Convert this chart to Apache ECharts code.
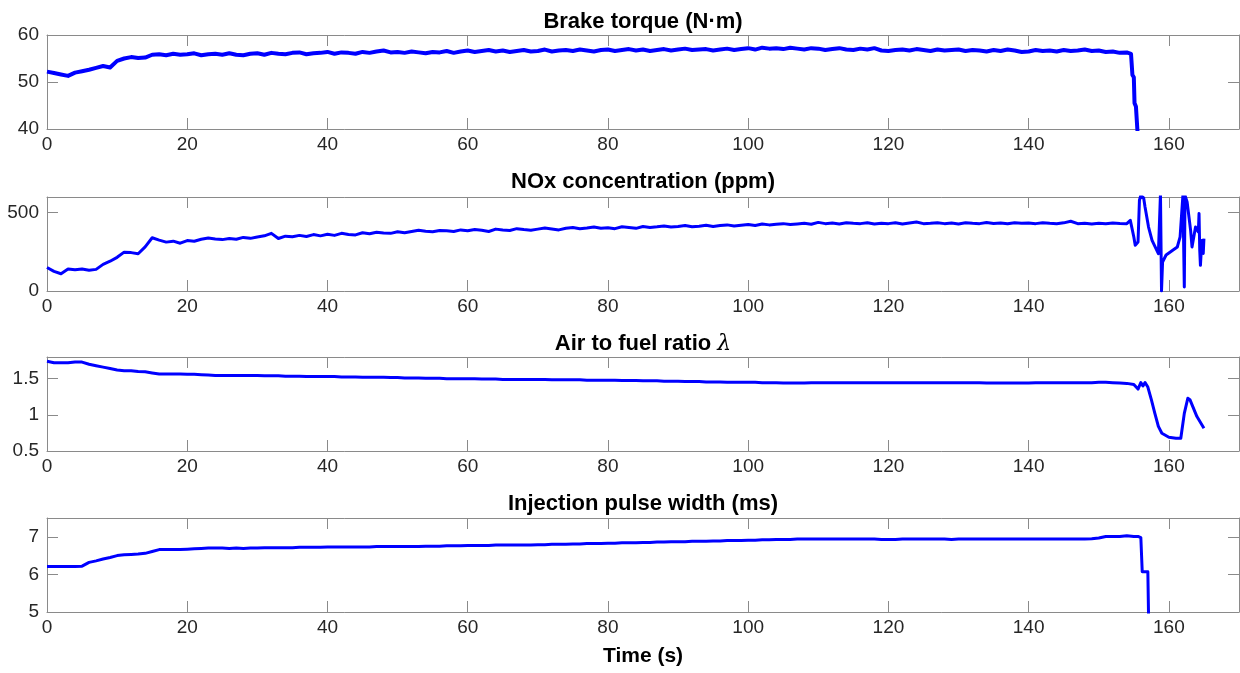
<!DOCTYPE html>
<html>
<head>
<meta charset="utf-8">
<script src="https://cdn.jsdelivr.net/npm/echarts@6/dist/echarts.min.js"></script>
<style>
html,body{margin:0;padding:0;background:#fff;}
#chart{width:1240px;height:673px;}
</style>
</head>
<body>
<div id="chart"></div>
<script>
// Titles
const titles = ['Brake torque (N\u00b7m)', 'NOx concentration (ppm)', 'Air to fuel ratio {l|\u03bb}', 'Injection pulse width (ms)'];
const xName = 'Time (s)';
const xTicks = {min: 0, max: 170, interval: 20};
const yRanges = [
  {min: 40, max: 60, interval: 10},
  {min: 0, max: 600, interval: 500},
  {min: 0.5, max: 1.8, interval: 0.5},
  {min: 5, max: 7.5, interval: 1}
];

// Samples each second from t = 0 s
const torque1s = [
  52.2, 51.9, 51.6, 51.3, 52.0, 52.3, 52.6, 53.0, 53.4, 53.1,
  54.5, 55.0, 55.3, 55.1, 55.2, 55.8, 55.9, 55.7, 56.0, 55.8,
  55.9, 56.1, 55.7, 55.9, 56.0, 55.8, 56.1, 55.8, 55.7, 56.0,
  56.1, 55.8, 56.2, 56.0, 55.9, 56.2, 56.3, 55.9, 56.1, 56.2,
  56.4, 56.0, 56.3, 56.2, 56.0, 56.4, 56.2, 56.5, 56.7, 56.3,
  56.4, 56.2, 56.5, 56.3, 56.1, 56.4, 56.3, 56.6, 56.2, 56.5,
  56.7, 56.4, 56.6, 56.8, 56.5, 56.7, 56.4, 56.6, 56.8, 56.5,
  56.6, 56.9, 56.5, 56.7, 56.8, 56.6, 56.9, 56.7, 56.5, 56.8,
  56.9, 56.6, 56.8, 57.0, 56.7, 56.9, 56.6, 56.8, 57.0, 56.7,
  56.9, 57.1, 56.8, 56.9, 57.0, 56.7, 56.9, 57.1, 56.8, 57.0,
  57.2, 56.9, 57.3, 57.1, 57.2, 57.0, 57.3, 57.1, 56.9, 57.2,
  57.1, 56.8, 57.0, 57.2, 56.9, 56.8, 57.1, 56.9, 57.2, 56.7,
  56.6, 56.8, 56.9, 56.7, 57.0, 56.8, 56.6, 56.9, 56.7, 56.8,
  56.9, 56.6, 56.8, 56.7, 56.5, 56.8, 56.6, 56.9, 56.7, 56.4,
  56.5, 56.8, 56.6, 56.7, 56.5, 56.8, 56.6, 56.7, 56.9, 56.6,
  56.7, 56.4, 56.5, 56.2, 56.3
];
const torqueTailT = [154.6, 154.8, 155.0, 155.1, 155.3, 155.5, 155.7];
const torqueTailV = [56.0, 51.5, 51.0, 45.5, 44.8, 40.0, 36.0];

const nox1s = [
  150, 125, 110, 140, 135, 140, 132, 138, 170, 190,
  215, 248, 245, 238, 282, 340, 325, 312, 318, 305,
  322, 318, 330, 338, 332, 328, 335, 330, 342, 336,
  345, 352, 368, 335, 350, 346, 355, 348, 360, 352,
  362, 355, 368, 360, 358, 372, 365, 375, 370, 368,
  378, 372, 380, 388, 382, 378, 386, 384, 380, 390,
  385, 392, 388, 380, 395, 390, 386, 398, 392, 388,
  395, 402, 396, 390, 400, 405, 398, 402, 408, 400,
  404, 398, 410, 405, 400, 412, 406, 410, 415, 408,
  412, 418, 410, 414, 420, 412, 418, 422, 415, 420,
  425, 418, 428, 422, 426, 430, 424, 428, 432, 426,
  438, 430, 434, 428, 436, 432, 430, 435, 428, 433,
  430, 436, 428, 434, 440, 430, 432, 436, 430, 434,
  428, 435, 432, 430, 437, 431, 434, 429, 436, 433,
  434, 430, 436, 432, 429, 435, 445, 430, 433, 428,
  432, 429, 434, 431, 430
];
const noxTailT = [154.5, 155.0, 155.2, 155.6, 155.8, 156.0, 156.4, 156.6, 157.1, 157.6, 158.5, 158.7, 158.8, 158.95, 159.1, 159.6, 160.4, 161.2, 161.6, 162.0, 162.2, 162.3, 162.6, 163.1, 163.3, 163.8, 164.2, 164.3, 164.4, 164.5, 164.7, 164.9, 165.0];
const noxTailV = [451, 345, 292, 313, 579, 610, 595, 536, 408, 323, 238, 240, 620, 0, 185, 230, 255, 281, 345, 610, 25, 610, 568, 387, 281, 408, 377, 494, 260, 164, 323, 240, 334];

const lambda1s = [
  1.74, 1.72, 1.72, 1.72, 1.73, 1.73, 1.70, 1.68, 1.66, 1.64,
  1.62, 1.61, 1.61, 1.60, 1.595, 1.58, 1.565, 1.565, 1.565, 1.565,
  1.56, 1.56, 1.555, 1.55, 1.545, 1.545, 1.545, 1.545, 1.545, 1.545,
  1.545, 1.54, 1.54, 1.54, 1.535, 1.535, 1.535, 1.53, 1.53, 1.53,
  1.53, 1.53, 1.525, 1.525, 1.525, 1.52, 1.52, 1.52, 1.52, 1.515,
  1.515, 1.51, 1.51, 1.51, 1.505, 1.505, 1.505, 1.50, 1.50, 1.50,
  1.50, 1.50, 1.495, 1.495, 1.495, 1.49, 1.49, 1.49, 1.49, 1.49,
  1.49, 1.49, 1.485, 1.485, 1.485, 1.485, 1.485, 1.48, 1.48, 1.48,
  1.48, 1.48, 1.475, 1.475, 1.475, 1.47, 1.47, 1.47, 1.465, 1.465,
  1.465, 1.46, 1.46, 1.46, 1.455, 1.455, 1.455, 1.45, 1.45, 1.45,
  1.45, 1.45, 1.445, 1.445, 1.445, 1.44, 1.44, 1.44, 1.44, 1.445,
  1.445, 1.445, 1.445, 1.445, 1.445, 1.445, 1.445, 1.445, 1.445, 1.445,
  1.445, 1.445, 1.445, 1.445, 1.445, 1.445, 1.445, 1.445, 1.445, 1.445,
  1.445, 1.445, 1.445, 1.445, 1.44, 1.44, 1.44, 1.44, 1.44, 1.44,
  1.44, 1.445, 1.445, 1.445, 1.445, 1.445, 1.445, 1.445, 1.445, 1.445,
  1.45, 1.45, 1.445, 1.44, 1.435
];
const lambdaTailT = [155.0, 155.6, 156.0, 156.3, 156.6, 157.0, 157.5, 158.0, 158.5, 159.0, 160.0, 161.0, 161.7, 162.2, 162.7, 163.0, 164.0, 165.0];
const lambdaTailV = [1.42, 1.356, 1.447, 1.40, 1.447, 1.384, 1.21, 1.02, 0.84, 0.745, 0.69, 0.676, 0.676, 1.02, 1.23, 1.21, 0.976, 0.815];

const inject1s = [
  6.21, 6.21, 6.21, 6.21, 6.21, 6.22, 6.32, 6.36, 6.41, 6.45,
  6.50, 6.52, 6.53, 6.54, 6.56, 6.61, 6.66, 6.66, 6.66, 6.66,
  6.67, 6.68, 6.69, 6.70, 6.70, 6.70, 6.69, 6.70, 6.69, 6.70,
  6.70, 6.71, 6.71, 6.71, 6.71, 6.71, 6.72, 6.72, 6.72, 6.72,
  6.73, 6.73, 6.73, 6.73, 6.73, 6.73, 6.73, 6.74, 6.74, 6.74,
  6.74, 6.74, 6.74, 6.74, 6.75, 6.75, 6.75, 6.76, 6.76, 6.76,
  6.77, 6.77, 6.77, 6.77, 6.78, 6.78, 6.78, 6.78, 6.78, 6.78,
  6.79, 6.79, 6.80, 6.80, 6.80, 6.81, 6.81, 6.82, 6.82, 6.82,
  6.83, 6.83, 6.84, 6.84, 6.84, 6.85, 6.85, 6.86, 6.86, 6.87,
  6.87, 6.87, 6.88, 6.88, 6.88, 6.89, 6.89, 6.90, 6.90, 6.90,
  6.91, 6.91, 6.92, 6.92, 6.93, 6.93, 6.93, 6.94, 6.94, 6.94,
  6.94, 6.94, 6.94, 6.94, 6.94, 6.94, 6.94, 6.94, 6.94, 6.93,
  6.93, 6.93, 6.94, 6.94, 6.94, 6.94, 6.94, 6.94, 6.94, 6.93,
  6.94, 6.94, 6.94, 6.94, 6.94, 6.94, 6.94, 6.94, 6.94, 6.94,
  6.94, 6.94, 6.94, 6.94, 6.94, 6.94, 6.94, 6.94, 6.94, 6.95,
  6.97, 7.01, 7.01, 7.01, 7.03, 7.01
];
const injectTailT = [155.6, 156.0, 156.2, 157.0, 157.1];
const injectTailV = [7.01, 6.98, 6.07, 6.07, 4.9];

function build(samples, tailT, tailV) {
  const d = samples.map((v, i) => [i, v]);
  tailT.forEach((t, k) => d.push([t, tailV[k]]));
  return d;
}
const seriesData = [
  build(torque1s, torqueTailT, torqueTailV),
  build(nox1s, noxTailT, noxTailV),
  build(lambda1s, lambdaTailT, lambdaTailV),
  build(inject1s, injectTailT, injectTailV)
];

const FONT = "'Liberation Sans', Arial, sans-serif";
const frameColor = '#8a8a8a';
const labelColor = '#262626';
const gridTops = [35, 197, 357, 518];
const gridH = 94;
const titleTops = [11, 171, 333, 493];
const lineWidths = [4, 3, 3, 3];

const grid = [], xAxis = [], yAxis = [], series = [], title = [];
for (let i = 0; i < 4; i++) {
  grid.push({left: 47, right: 1, top: gridTops[i], height: gridH, containLabel: false});
  const tickStyle = {show: true, inside: true, length: 11, lineStyle: {color: frameColor, width: 1}};
  const lineStyle = {show: true, onZero: false, lineStyle: {color: frameColor, width: 1}};
  xAxis.push({
    type: 'value', gridIndex: i, position: 'bottom', min: xTicks.min, max: xTicks.max, interval: xTicks.interval,
    axisLine: lineStyle, axisTick: tickStyle, splitLine: {show: false},
    axisLabel: {show: true, showMaxLabel: false, margin: 6, fontSize: 19, color: labelColor, fontFamily: FONT},
    name: i === 3 ? xName : '', nameLocation: 'middle', nameGap: 34,
    nameTextStyle: {fontSize: 21, fontWeight: 'bold', color: '#000', fontFamily: FONT}
  });
  xAxis.push({
    type: 'value', gridIndex: i, position: 'top', min: xTicks.min, max: xTicks.max, interval: xTicks.interval,
    axisLine: lineStyle, axisTick: tickStyle, splitLine: {show: false}, axisLabel: {show: false}
  });
  const yr = yRanges[i];
  yAxis.push({
    type: 'value', gridIndex: i, position: 'left', min: yr.min, max: yr.max, interval: yr.interval,
    axisLine: lineStyle, axisTick: tickStyle, splitLine: {show: false},
    axisLabel: {show: true, showMaxLabel: i === 0, showMinLabel: true, margin: 8, fontSize: 19, color: labelColor, fontFamily: FONT}
  });
  yAxis.push({
    type: 'value', gridIndex: i, position: 'right', min: yr.min, max: yr.max, interval: yr.interval,
    axisLine: lineStyle, axisTick: tickStyle, splitLine: {show: false}, axisLabel: {show: false}
  });
  series.push({
    type: 'line', xAxisIndex: 2 * i, yAxisIndex: 2 * i, data: seriesData[i],
    showSymbol: false, symbol: 'none', clip: true, animation: false,
    lineStyle: {color: '#0000ff', width: lineWidths[i], join: 'round'}
  });
  title.push({
    text: titles[i], left: 643, top: titleTops[i], textAlign: 'center', padding: 0,
    textStyle: {
      fontSize: 22, fontWeight: 'bold', color: '#000', fontFamily: FONT,
      rich: {l: {fontSize: 22, fontStyle: 'italic', fontWeight: 'normal', color: '#000', fontFamily: "'DejaVu Serif', serif"}}
    }
  });
}

const chart = echarts.init(document.getElementById('chart'), null, {renderer: 'canvas'});
chart.setOption({backgroundColor: '#fff', animation: false, title, grid, xAxis, yAxis, series});
</script>
</body>
</html>
